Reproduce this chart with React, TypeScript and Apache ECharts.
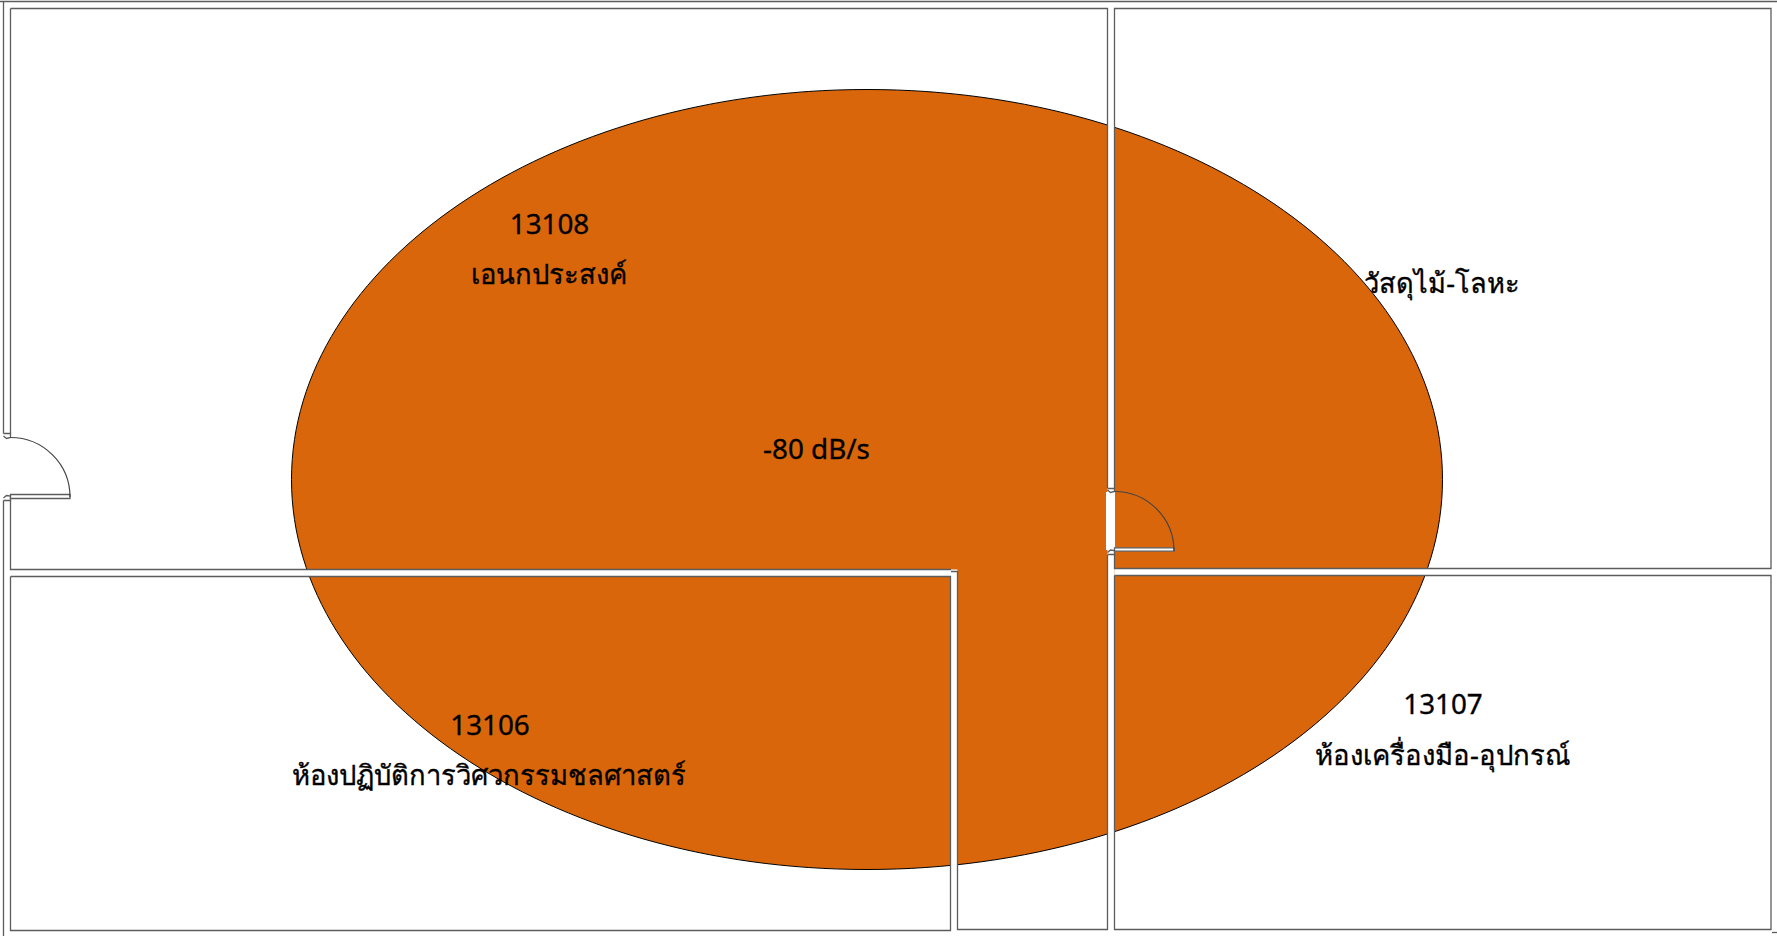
import React, { useEffect, useRef } from "react";
import * as echarts from "echarts";

const PLAN_W = 1777;
const PLAN_H = 936;

// Coverage zone [cx, cy, rx, ry]
const zone = [[867, 479.5, 575.5, 390]];
const zoneColor = "#D9660A";

// White wall bands [x0, y0, x1, y1]
const wallBands = [
  [3.5, 1.5, 10.5, 936],
  [10.5, 569.5, 951, 576.5],
  [951, 569.5, 957.5, 930],
  [1107.5, 8, 1114.5, 930],
  [1114.5, 568.5, 1771, 575.5],
  [10.5, 930, 1777, 936],
  [0, 0, 1777, 8],
];

// Wall outlines, lists of [x, y]
const wallLines: number[][][] = [
  [[0, 1.5], [1777, 1.5]],
  [[3.5, 1.5], [3.5, 433.5]],
  [[3.5, 500.5], [3.5, 936]],
  [[10.5, 8.5], [10.5, 433.5]],
  [[10.5, 500.5], [10.5, 569.5], [951, 569.5]],
  [[10.5, 8.5], [1107.5, 8.5], [1107.5, 488]],
  [[1107.5, 555], [1107.5, 929.5], [957.5, 929.5], [957.5, 571.5], [951, 571.5]],
  [[10.5, 576.5], [950.5, 576.5], [950.5, 930.5], [10.5, 930.5], [10.5, 576.5]],
  [[1114.5, 488], [1114.5, 8.5], [1771, 8.5], [1771, 568.5], [1114.5, 568.5], [1114.5, 555]],
  [[1114.5, 575.5], [1771, 575.5], [1771, 929.5], [1114.5, 929.5], [1114.5, 575.5]],
  [[1772, 932.5], [1777, 932.5]],
  [[3.5, 433.5], [10.5, 433.5], [10.5, 437.5], [6.5, 438.5], [3.5, 436]],
  [[3.5, 500.5], [10.5, 500.5], [10.5, 496], [6.5, 495.5], [3.5, 498]],
  [[1107.5, 488.5], [1114.5, 488.5], [1114.5, 491.5], [1110.5, 492.5], [1107.5, 490]],
  [[1107.5, 554.5], [1114.5, 554.5], [1114.5, 550.5], [1110.5, 550], [1107.5, 552.5]],
];

// Door leaves [x0, y0, x1, y1]
const doorLeaves = [
  [10.5, 494.5, 70, 498.5],
  [1114.5, 547.8, 1174, 551.2],
];

// Door swings [cx, cy, r]
const doorSwings = [
  [10.5, 497, 59.5],
  [1114.5, 551, 59.5],
];

// Door openings (white) [x0, y0, x1, y1]
const doorGaps = [[1106, 492, 1115, 550]];

const labelTexts = [
  "13108",
  "เอนกประสงค์",
  "วัสดุไม้-โลหะ",
  "-80 dB/s",
  "13106",
  "ห้องปฏิบัติการวิศวกรรมชลศาสตร์",
  "13107",
  "ห้องเครื่องมือ-อุปกรณ์",
];
const labelX = [549.5, 549, 1442, 816.5, 490, 489, 1443, 1443];
const labelY = [222.5, 273.5, 282.5, 448, 723.5, 774.5, 703, 754.5];
const labelSizes = [27.8, 27.4, 27.2, 27.8, 27.8, 27.4, 27.8, 27.5];

const LINE = "#5c5c5c";
const FONT = "'Noto Sans', 'Open Sans', sans-serif";

function App() {
  const ref = useRef<HTMLDivElement>(null);
  useEffect(() => {
    document.body.style.margin = "0";
    const chart = echarts.init(ref.current!, undefined, { renderer: "svg" });
    chart.setOption({
      animation: false,
      backgroundColor: "#ffffff",
      grid: { left: 0, right: 0, top: 0, bottom: 0 },
      xAxis: { type: "value", min: 0, max: PLAN_W, show: false },
      yAxis: { type: "value", min: 0, max: PLAN_H, inverse: true, show: false },
      series: [
        {
          type: "custom",
          clip: false,
          silent: true,
          data: zone,
          encode: { x: 0, y: 1 },
          renderItem: (_: any, api: any) => {
            const c = api.coord([api.value(0), api.value(1)]);
            const e = api.coord([api.value(0) + api.value(2), api.value(1) + api.value(3)]);
            return {
              type: "ellipse",
              shape: { cx: c[0], cy: c[1], rx: e[0] - c[0], ry: e[1] - c[1] },
              style: { fill: zoneColor, stroke: "#000000", lineWidth: 1 },
            };
          },
        },
        ...[wallBands, doorGaps].map((d) => ({
          type: "custom",
          clip: false,
          silent: true,
          data: d,
          renderItem: (_: any, api: any) => {
            const a = api.coord([api.value(0), api.value(1)]);
            const b = api.coord([api.value(2), api.value(3)]);
            return {
              type: "rect",
              shape: { x: a[0], y: a[1], width: b[0] - a[0], height: b[1] - a[1] },
              style: { fill: "#ffffff", stroke: "none" },
            };
          },
        })),
        {
          type: "custom",
          clip: false,
          silent: true,
          data: wallLines.map((_, i) => [i]),
          renderItem: (_: any, api: any) => {
            const pts = wallLines[api.value(0)].map((p) => api.coord(p));
            return {
              type: "polyline",
              shape: { points: pts },
              style: { fill: "none", stroke: LINE, lineWidth: 1.3 },
            };
          },
        },
        {
          type: "custom",
          clip: false,
          silent: true,
          data: doorLeaves,
          renderItem: (_: any, api: any) => {
            const a = api.coord([api.value(0), api.value(1)]);
            const b = api.coord([api.value(2), api.value(3)]);
            return {
              type: "rect",
              shape: { x: a[0], y: a[1], width: b[0] - a[0], height: b[1] - a[1] },
              style: { fill: "#ffffff", stroke: LINE, lineWidth: 1.3 },
            };
          },
        },
        {
          type: "custom",
          clip: false,
          silent: true,
          data: doorSwings,
          renderItem: (_: any, api: any) => {
            const c = api.coord([api.value(0), api.value(1)]);
            return {
              type: "arc",
              shape: { cx: c[0], cy: c[1], r: api.value(2), startAngle: -Math.PI / 2, endAngle: 0, clockwise: true },
              style: { fill: "none", stroke: "#444444", lineWidth: 1.2 },
            };
          },
        },
        {
          type: "custom",
          clip: false,
          silent: true,
          data: labelTexts.map((_, i) => [labelX[i], labelY[i], i]),
          renderItem: (_: any, api: any) => {
            const c = api.coord([api.value(0), api.value(1)]);
            return {
              type: "text",
              x: c[0],
              y: c[1],
              style: {
                text: labelTexts[api.value(2)],
                fontSize: labelSizes[api.value(2)],
                fontFamily: FONT,
                fill: "#000000",
                stroke: "#000000",
                lineWidth: 0.35,
                textAlign: "center",
                textVerticalAlign: "middle",
              },
            };
          },
        },
      ],
    });
    return () => chart.dispose();
  }, []);
  return <div ref={ref} style={{ position: "absolute", left: 0, top: 0, width: PLAN_W, height: PLAN_H }} />;
}

export default App;
